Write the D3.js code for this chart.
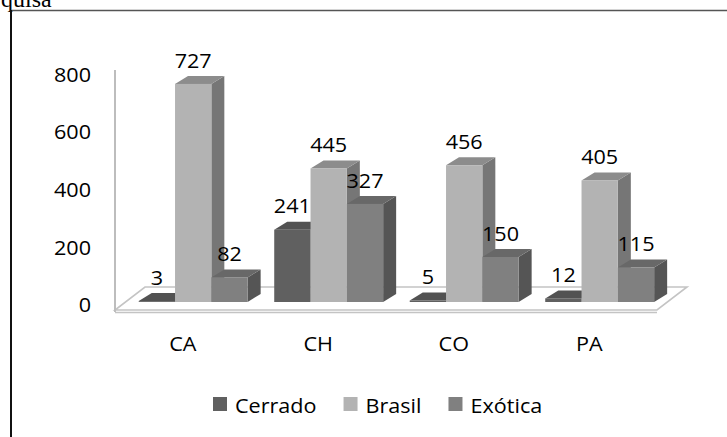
<!DOCTYPE html>
<html>
<head>
<meta charset="utf-8">
<script src="https://cdn.jsdelivr.net/npm/d3@7"></script>
<style>
  html, body { margin: 0; padding: 0; background: #fff; }
  svg { display: block; }
  .lbl { font-family: "Open Sans", sans-serif; font-size: 20px; fill: #000; }
</style>
</head>
<body>
<svg id="chart" width="727" height="437"></svg>
<script>
// Species counts per area, split by origin
const categories = ["CA", "CH", "CO", "PA"];
const seriesNames = ["Cerrado", "Brasil", "Exótica"];
const cerrado = [3, 241, 5, 12];
const brasil = [727, 445, 456, 405];
const exotica = [82, 327, 150, 115];
const yTicks = [0, 200, 400, 600, 800];

const seriesValues = [cerrado, brasil, exotica];
const faceColors = [
  { front: "#606060", top: "#525252", side: "#444444" },
  { front: "#b3b3b3", top: "#8c8c8c", side: "#767676" },
  { front: "#808080", top: "#686868", side: "#555555" }
];

const svg = d3.select("#chart");
const stretch = 1.08;

function label(g, x, y, text, anchor) {
  return g.append("g")
    .attr("transform", `translate(${x},${y}) scale(${stretch},1)`)
    .append("text")
    .attr("class", "lbl")
    .attr("text-anchor", anchor || "middle")
    .attr("dominant-baseline", "central")
    .text(text);
}

// Caption fragment above the frame
svg.append("text")
  .attr("x", 1).attr("y", 7)
  .attr("font-family", "'Liberation Serif', serif")
  .attr("font-size", 24)
  .text("quisa");

// Outer frame
svg.append("line").attr("x1", 11).attr("x2", 727).attr("y1", 10.5).attr("y2", 10.5)
  .attr("stroke", "#555").attr("stroke-width", 1.5);
svg.append("line").attr("x1", 11).attr("x2", 11).attr("y1", 10).attr("y2", 437)
  .attr("stroke", "#111").attr("stroke-width", 2);

// Floor geometry (oblique projection)
const floorFrontY = 310, floorBackY = 287;
const floorLeft = 115, floorRight = 657, floorDX = 30;

// Category bands along the floor's front edge
const x = d3.scaleBand().domain(categories).range([floorLeft, floorRight]);

// Bars stand partway into the floor depth
const barBase = 302;
const depthFrac = (floorFrontY - barBase) / (floorFrontY - floorBackY);
const barShiftX = floorDX * depthFrac;

const xs = d3.scaleBand().domain(seriesNames).range([0, x.bandwidth()])
  .paddingInner(0).paddingOuter(0.366);

const yBar = d3.scaleLinear().domain([0, 800]).range([barBase, barBase - 240]);
const yAxis = d3.scaleLinear().domain([0, 800]).range([304.5, 74]);

const dx = 13, dy = -8;

// Floor
const floor = svg.append("g");
floor.append("polygon")
  .attr("points", [[floorLeft, floorFrontY], [floorRight, floorFrontY],
    [floorRight + floorDX, floorBackY], [floorLeft + floorDX, floorBackY]].join(" "))
  .attr("fill", "#fff").attr("stroke", "#c4c4c4").attr("stroke-width", 1.6);
floor.append("line")
  .attr("x1", floorLeft).attr("x2", floorRight)
  .attr("y1", floorFrontY + 2.5).attr("y2", floorFrontY + 2.5)
  .attr("stroke", "#c4c4c4").attr("stroke-width", 1.6);

// Vertical axis line
svg.append("line")
  .attr("x1", floorLeft).attr("x2", floorLeft)
  .attr("y1", yAxis(800) - 4).attr("y2", floorFrontY + 2)
  .attr("stroke", "#bdbdbd").attr("stroke-width", 2);

// Y tick labels
const yg = svg.append("g");
yTicks.forEach(t => label(yg, 91, yAxis(t), String(t), "end"));

// Bars: drawn left to right so each front face hides the neighbour's side
const bars = [];
categories.forEach((c, ci) => {
  seriesNames.forEach((s, si) => {
    bars.push({ c, s, si, v: seriesValues[si][ci] });
  });
});

const barG = svg.append("g");
const w = xs.bandwidth();
bars.forEach(b => {
  const x0 = x(b.c) + barShiftX + xs(b.s);
  const yt = yBar(b.v);
  const col = faceColors[b.si];
  const g = barG.append("g");
  g.append("polygon")
    .attr("points", [[x0 + w, yt], [x0 + w + dx, yt + dy], [x0 + w + dx, barBase + dy], [x0 + w, barBase]].join(" "))
    .attr("fill", col.side);
  g.append("polygon")
    .attr("points", [[x0, yt], [x0 + w, yt], [x0 + w + dx, yt + dy], [x0 + dx, yt + dy]].join(" "))
    .attr("fill", col.top);
  g.append("rect")
    .attr("x", x0).attr("y", yt)
    .attr("width", w).attr("height", Math.max(0, barBase - yt))
    .attr("fill", col.front);
  b.cx = x0 + w / 2;
  b.yt = yt;
});

// Value labels
const vg = svg.append("g");
bars.forEach(b => label(vg, b.cx, b.yt - 24, String(b.v)));

// Category labels
const cg = svg.append("g");
categories.forEach(c => label(cg, x(c) + x.bandwidth() / 2, 343, c));

// Legend
const lg = svg.append("g");
let lx = 213;
seriesNames.forEach((s, si) => {
  lg.append("rect").attr("x", lx).attr("y", 397).attr("width", 14).attr("height", 14)
    .attr("fill", faceColors[si].front);
  const t = label(lg, lx + 22, 405, s, "start");
  const tw = t.node().getComputedTextLength() * stretch;
  lx += 22 + tw + 27;
});
</script>
</body>
</html>
